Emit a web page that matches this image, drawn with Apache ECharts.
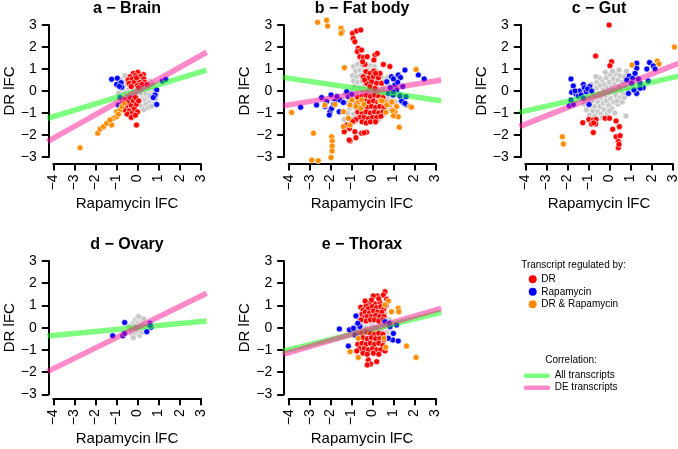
<!DOCTYPE html>
<html><head><meta charset="utf-8">
<script src="https://cdn.jsdelivr.net/npm/echarts/dist/echarts.min.js"></script>
<style>html,body{margin:0;padding:0;background:#fff}#c{width:678px;height:449px}</style>
</head><body><div id="c"></div>
<script>
// ---------- text ----------
const panelTitles = ['a \u2212 Brain', 'b \u2212 Fat body', 'c \u2212 Gut', 'd \u2212 Ovary', 'e \u2212 Thorax'];
const xAxisTitle = 'Rapamycin lFC';
const yAxisTitle = 'DR lFC';
const xTicks = [-4, -3, -2, -1, 0, 1, 2, 3];
const yTicks = [-3, -2, -1, 0, 1, 2, 3];
const legendTitle1 = 'Transcript regulated by:';
const groupNames = ['DR', 'Rapamycin', 'DR & Rapamycin'];
const legendTitle2 = 'Correlation:';
const lineNames = ['All transcripts', 'DE transcripts'];

// ---------- data: [Rapamycin lFC, DR lFC] ----------
// a - Brain
const aGray = [[-0.85,0.25],[-0.7,0.4],[-0.6,0.15],[-0.55,0.5],[-0.5,0.3],[-0.45,0.05],[-0.4,0.35],[-0.35,-0.1],[-0.3,0.2],[-0.25,0.45],[-0.2,0.0],[-0.15,0.3],[-0.1,-0.2],[-0.05,0.15],[0,0.35],[0.05,-0.05],[0.1,0.2],[0.15,-0.3],[0.2,0.05],[0.25,-0.15],[0.3,0.3],[0.35,-0.4],[0.4,0.1],[0.45,-0.25],[0.5,-0.05],[0.55,-0.5],[0.6,0.15],[0.65,-0.3],[0.7,-0.1],[0.75,-0.6],[0.8,0.05],[0.85,-0.35],[-0.65,-0.05],[-0.75,0.1],[-0.5,-0.25],[-0.3,-0.35],[-0.1,-0.45],[0.1,-0.5],[0.2,-0.7],[0.4,-0.6],[0.3,-0.85],[0.5,-0.75],[0.65,-0.7],[-0.2,0.6],[-0.4,0.65],[-0.6,0.7],[0.15,0.5],[0.45,0.4],[0.6,0.45],[0.35,0.55],[-0.9,-0.1],[0.0,-0.3],[0.1,0.0],[-0.05,-0.1],[0.25,0.15],[0.7,0.3],[0.9,-0.15],[-0.8,0.5],[0.55,-0.2],[0.35,-0.1],[0.15,-0.1],[-0.25,-0.2]];
const aDR = [[-0.2,0.8],[0.02,0.85],[0.28,0.75],[-0.35,0.65],[-0.1,0.7],[0.15,0.68],[-0.45,0.5],[-0.25,0.55],[0.0,0.55],[0.3,0.55],[-0.4,0.35],[-0.15,0.4],[0.1,0.4],[0.35,0.4],[-0.3,0.2],[0.0,0.25],[0.2,0.3],[0.45,0.3],[0.05,0.15],[-0.05,0.6],[-0.75,-0.55],[-0.6,-0.4],[-0.55,-0.7],[-0.45,-0.5],[-0.4,-0.9],[-0.35,-0.3],[-0.3,-0.65],[-0.25,-1.0],[-0.2,-0.45],[-0.15,-0.8],[-0.1,-0.3],[-0.05,-0.6],[0.0,-0.95],[-0.5,-1.05],[-0.3,-1.2],[-0.65,-0.85],[-0.1,-1.1],[0.05,-0.45],[-0.05,-1.55]];
const aRapa = [[-1.23,0.53],[-0.96,0.58],[-0.99,0.3],[-0.78,0.38],[-0.75,0.17],[-0.86,0.21],[1.18,0.45],[1.34,0.53],[0.91,0.05],[0.83,-0.18],[0.75,-0.3],[0.91,-0.61],[-0.83,-0.29],[-0.91,-0.64]];
const aBoth = [[-2.73,-2.58],[-1.89,-1.92],[-1.78,-1.73],[-1.62,-1.62],[-1.46,-1.47],[-1.23,-1.55],[-1.15,-1.24],[-0.99,-1.17],[-0.99,-0.94],[-0.83,-0.86],[-0.75,-0.71],[-0.63,-0.56],[-0.91,-1.06],[-1.31,-1.32]];
// b - Fat body
const bGray = [[-0.9,1.1],[-0.7,1.2],[-0.5,1.15],[-0.3,1.2],[-0.1,1.15],[0.1,1.1],[-0.8,0.9],[-0.6,0.95],[-0.4,0.9],[-0.2,0.95],[0.0,0.95],[0.2,0.9],[-0.95,0.7],[-0.75,0.65],[-0.55,0.7],[-0.35,0.75],[0.3,0.7],[0.45,0.6],[-0.9,0.45],[-0.7,0.4],[-0.5,0.45],[-0.3,0.5],[-0.15,0.35],[0.4,0.4],[0.6,0.45],[0.75,0.3],[-0.85,0.2],[-0.6,0.15],[-0.4,0.2],[-0.2,0.1],[0.0,0.15],[0.2,0.2],[0.5,0.15],[0.8,0.1],[1.0,0.25],[-1.0,0.0],[-0.75,-0.05],[-0.5,-0.05],[-0.25,-0.1],[0.05,-0.05],[0.3,-0.05],[0.55,-0.1],[0.85,-0.15],[1.1,-0.05],[-1.1,-0.3],[-0.85,-0.3],[-0.6,-0.25],[-0.35,-0.3],[0.4,-0.3],[0.7,-0.35],[0.95,-0.35],[-1.2,-0.55],[-0.95,-0.5],[-0.7,-0.55],[0.65,-0.6],[0.9,-0.55],[1.1,-0.5],[-1.1,-0.8],[-0.85,-0.75],[-0.6,-0.85],[0.6,-0.85],[0.85,-0.8],[-1.2,-1.0],[-0.9,-1.05],[-0.7,-1.15],[0.5,-1.1],[-1.35,-1.3],[-1.0,-1.3],[-0.8,-1.4],[0.3,-1.3],[-0.45,-1.25],[0.1,-1.45],[0.7,0.6],[-0.2,0.75],[0.15,0.55],[1.2,0.1],[-1.3,-0.1],[0.25,-0.5],[-0.15,-0.6]];
const bDR = [[-0.95,2.62],[-0.76,2.73],[-0.56,2.77],[-0.92,2.39],[-0.84,2.24],[-0.68,1.94],[-0.72,1.79],[-0.52,1.86],[-0.6,1.56],[-0.44,1.52],[-0.25,1.56],[0.12,1.64],[0.23,1.71],[0.07,1.41],[0.52,1.21],[0.83,1.11],[-0.36,1.21],[-0.47,1.33],[-0.31,0.88],[-0.12,0.8],[0.07,0.91],[-0.2,0.58],[0.04,0.65],[0.28,0.6],[-0.28,0.35],[-0.04,0.42],[0.2,0.35],[-0.44,0.65],[0.36,0.8],[-0.12,0.2],[0.44,0.35],[0.12,0.12],[-0.38,0.5],[0.15,0.8],[-0.7,-0.3],[-0.5,-0.25],[-0.3,-0.2],[-0.1,-0.25],[0.1,-0.2],[0.3,-0.25],[0.5,-0.3],[-0.75,-0.55],[-0.55,-0.5],[-0.35,-0.45],[-0.15,-0.5],[0.05,-0.45],[0.25,-0.5],[0.45,-0.55],[0.65,-0.5],[-0.65,-0.75],[-0.45,-0.7],[-0.25,-0.75],[-0.05,-0.7],[0.15,-0.75],[0.35,-0.7],[0.55,-0.75],[-0.7,-0.95],[-0.5,-1.0],[-0.3,-0.95],[-0.1,-1.0],[0.1,-0.95],[0.3,-1.0],[0.5,-0.95],[-0.6,-1.2],[-0.4,-1.2],[-0.2,-1.25],[0.0,-1.2],[0.2,-1.2],[0.4,-1.15],[-0.5,-1.4],[-0.3,-1.45],[-0.1,-1.4],[0.15,-1.4],[-0.8,-1.3],[-0.84,-1.85],[-0.52,-1.92],[-0.28,-1.88],[-0.4,-1.9],[-1.07,-2.27],[-0.79,-2.12],[-1.1,-1.7],[-0.95,-1.39],[-1.35,-1.85],[-1.23,-1.55],[-1.11,-2.23]];
const bRapa = [[-3.43,-0.74],[-2.67,-0.64],[-2.43,-0.3],[-2.27,-0.71],[-2.19,-0.48],[-2.03,-0.94],[-2.06,-1.09],[-1.95,-0.79],[-1.98,-0.18],[-1.79,-0.45],[-1.59,-0.94],[-1.55,-0.41],[-1.39,-0.52],[-1.23,-0.03],[-1.15,-0.26],[-0.99,-0.15],[-1.85,-0.6],[-1.7,-0.25],[0.68,0.42],[0.91,0.65],[1.07,0.27],[1.23,0.73],[1.34,0.61],[1.55,0.95],[2.19,0.73],[2.47,0.55],[1.15,0.05],[1.31,-0.18],[1.47,-0.52],[1.6,-0.61],[1.39,-0.45],[1.6,-0.26],[0.76,-0.11],[0.99,-0.18],[1.31,-0.23],[1.55,-0.56],[0.99,-0.03],[1.2,0.4],[0.85,0.15],[1.45,0.2],[1.0,0.55]];
const bBoth = [[-2.62,3.12],[-2.19,3.22],[-2.14,2.95],[-1.5,2.85],[-1.45,2.7],[-1.5,2.62],[-1.34,1.06],[2.08,0.98],[-3.86,-0.98],[-2.82,-1.92],[-1.95,-2.08],[-1.92,-2.27],[-1.92,-2.5],[-1.93,-2.73],[-1.98,-3.02],[-2.9,-3.14],[-2.59,-3.17],[-0.99,-0.41],[-0.68,-0.52],[-0.52,-0.41],[-1.07,-0.64],[-0.79,-0.71],[-0.55,-0.79],[-0.41,-0.61],[0.36,-0.45],[0.6,-0.52],[0.83,-0.61],[0.96,-0.52],[1.15,-0.71],[1.23,-1.17],[1.07,-0.94],[1.79,-0.71],[0.64,-0.97],[-1.39,-1.62],[-1.15,-1.24],[-1.39,-0.94],[-2.27,-0.64],[-1.79,-0.61],[-1.07,-1.55],[0.44,-0.44],[0.68,-0.64],[0.92,-0.5],[0.96,-0.9],[1.0,-1.13],[1.28,-1.65],[1.87,-0.74]];
// c - Gut
const cGray = [[-1.3,-0.3],[-1.2,-0.6],[-1.15,-0.1],[-1.1,-0.85],[-1.05,-0.4],[-1.0,0.1],[-0.95,-1.1],[-0.95,-0.65],[-0.9,-0.2],[-0.85,0.3],[-0.8,-0.9],[-0.8,-0.45],[-0.75,0.05],[-0.7,-1.15],[-0.7,-0.7],[-0.65,-0.25],[-0.6,0.4],[-0.6,0.15],[-0.55,-0.95],[-0.55,-0.5],[-0.5,-0.1],[-0.45,0.25],[-0.45,-0.7],[-0.4,-1.05],[-0.4,-0.3],[-0.35,0.5],[-0.3,0.05],[-0.3,-0.55],[-0.25,-0.85],[-0.25,0.3],[-0.2,-0.2],[-0.15,0.6],[-0.15,-0.45],[-0.1,0.15],[-0.1,-1.0],[-0.05,-0.65],[0.0,0.4],[0.0,-0.1],[0.05,0.75],[0.05,-0.35],[0.1,0.2],[0.1,-0.8],[0.15,-0.05],[0.2,0.55],[0.2,-0.5],[0.25,0.3],[0.3,-0.2],[0.3,0.8],[0.35,0.05],[0.4,-0.6],[0.4,0.5],[0.45,0.2],[0.5,-0.3],[0.5,0.7],[0.55,0.0],[0.6,0.4],[0.65,-0.15],[0.7,0.65],[0.75,0.2],[0.8,0.9],[0.85,0.45],[0.9,0.05],[0.78,-1.14],[-0.5,0.6],[-0.35,-1.2],[0.25,-1.0],[-0.8,-0.15],[0.6,-0.5],[0.15,0.9],[-0.65,0.65],[-1.0,-0.3],[0.0,-0.9],[0.35,-0.45],[0.7,-0.3],[-0.2,0.85],[0.45,0.95]];
const cDR = [[-0.02,3.0],[-0.66,1.59],[0.1,1.33],[0.02,1.15],[-1.27,-1.44],[-0.98,-1.29],[-0.77,-1.32],[-0.64,-1.29],[-0.85,-1.5],[-0.66,-1.5],[-0.77,-1.89],[-0.21,-1.24],[0.0,-1.24],[0.31,-1.36],[0.15,-1.74],[0.47,-1.62],[0.31,-2.08],[0.5,-2.03],[0.42,-2.3],[0.42,-2.58],[0.45,-2.42],[-0.75,-1.45]];
const cRapa = [[-1.83,0.55],[-1.72,0.23],[-1.8,-0.06],[-1.59,-0.15],[-1.43,0.0],[-1.24,0.3],[-1.2,0.15],[-1.11,-0.03],[-1.64,0.0],[-1.48,-0.23],[-1.35,-0.18],[-1.24,-0.33],[-0.97,-0.61],[-0.94,0.2],[-1.04,0.09],[-0.85,0.0],[-1.91,-0.67],[-1.72,-0.61],[-1.83,-0.41],[0.93,0.68],[1.1,0.58],[1.29,1.26],[1.29,1.03],[1.21,0.8],[1.77,1.0],[1.9,1.29],[2.08,1.14],[2.16,1.0],[1.6,0.15],[1.45,0.12],[1.29,-0.11],[1.16,0.05],[0.9,-0.11],[1.45,0.35],[1.05,0.35],[0.82,0.5],[1.37,0.55],[1.84,0.45]];
const cBoth = [[-2.24,-2.08],[-2.19,-2.41],[1.07,1.18],[2.27,1.36],[2.35,1.23],[3.08,2.0]];
// d - Ovary
const dGray = [[-0.35,-0.1],[-0.3,0.1],[-0.25,-0.3],[-0.2,0.2],[-0.15,-0.05],[-0.1,0.35],[-0.1,-0.25],[-0.05,0.1],[0.0,0.45],[0.0,-0.15],[0.05,0.25],[0.1,-0.35],[0.1,0.05],[0.15,0.4],[0.2,0.15],[0.2,-0.2],[0.25,0.3],[0.3,0.0],[0.35,0.2],[0.4,-0.1],[0.45,0.1],[-0.2,-0.45],[0.05,0.5],[0.3,0.4],[-0.4,0.05]];
const dDR = [];
const dRapa = [[-0.61,0.23],[-1.18,-0.37],[-0.7,-0.37],[-0.62,-0.26],[0.59,0.2],[0.64,0.02],[0.44,-0.18],[0.6,0.1]];
const dBoth = [];
// e - Thorax
const eGray = [[-0.8,0.1],[-0.7,-0.2],[-0.65,0.35],[-0.6,-0.45],[-0.55,0.1],[-0.5,0.5],[-0.45,-0.25],[-0.4,0.25],[-0.35,-0.5],[-0.3,0.0],[-0.25,0.6],[-0.2,-0.3],[-0.15,0.35],[-0.1,-0.1],[-0.05,0.15],[0.0,-0.45],[0.05,0.45],[0.1,0.0],[0.15,-0.25],[0.2,0.3],[0.25,-0.05],[0.3,0.55],[0.35,-0.4],[0.4,0.15],[0.45,-0.15],[0.5,0.4],[0.55,-0.35],[0.6,0.05],[0.65,0.3],[0.7,-0.2],[0.75,0.1],[0.85,-0.05],[-0.6,0.6],[0.6,0.65],[-0.15,-0.6],[0.2,-0.55],[-0.75,-0.1],[0.8,0.35],[0.0,0.25],[-0.3,-0.2]];
const eDR = [[0.6,1.62],[0.52,1.47],[0.23,1.43],[0.04,1.43],[0.68,1.28],[-0.56,0.92],[-0.12,1.1],[0.12,1.07],[0.35,1.15],[-0.45,0.8],[-0.3,1.0],[-0.2,0.85],[0.0,0.95],[0.2,0.9],[0.4,0.95],[0.55,0.85],[-0.5,0.6],[-0.35,0.7],[-0.15,0.65],[0.05,0.75],[0.25,0.7],[0.45,0.7],[-0.4,0.45],[-0.25,0.5],[-0.05,0.5],[0.15,0.55],[0.35,0.5],[0.55,0.5],[-0.3,0.3],[-0.1,0.35],[0.1,0.35],[0.3,0.3],[0.5,0.35],[-0.55,0.35],[0.65,1.0],[-0.05,1.25],[0.3,1.3],[-0.35,1.2],[-0.7,-0.3],[-0.5,-0.25],[-0.3,-0.2],[-0.1,-0.25],[0.1,-0.3],[0.3,-0.25],[0.5,-0.3],[-0.65,-0.5],[-0.45,-0.45],[-0.25,-0.5],[-0.05,-0.45],[0.15,-0.5],[0.35,-0.5],[0.55,-0.55],[-0.7,-0.75],[-0.5,-0.7],[-0.3,-0.75],[-0.1,-0.7],[0.1,-0.75],[0.3,-0.7],[0.5,-0.8],[-0.6,-0.95],[-0.4,-0.95],[-0.2,-1.0],[0.0,-0.95],[0.2,-1.0],[0.4,-1.0],[-0.45,-1.15],[-0.25,-1.2],[0.05,-1.15],[0.3,-1.2],[-0.2,-1.46],[0.2,-1.53],[-0.09,-1.64],[-0.25,-1.68],[-0.75,-1.05],[0.6,-1.05]];
const eRapa = [[-1.58,-0.06],[-1.1,-0.1],[-0.91,-0.03],[-0.79,0.53],[-0.84,-0.33],[-0.6,0.05],[-1.15,-0.83],[0.84,0.05],[1.0,-0.26],[1.15,0.12],[0.97,-0.56],[1.23,-0.6],[0.76,-0.48],[0.6,0.27],[0.8,0.2],[-0.7,0.2]];
const eBoth = [[0.76,1.2],[0.6,1.02],[0.91,0.72],[1.23,0.87],[1.26,0.72],[-0.68,-0.48],[1.63,-0.83],[2.08,-1.34],[-1.07,-1.08],[-0.68,-1.34],[0.63,-0.89],[0.55,-0.48]];

// regression lines (one per panel a..e)
const allSlope = [0.29, -0.14, 0.218, 0.089, 0.23];
const allIntercept = [0.0, 0.02, -0.04, 0.01, -0.07];
const deSlope = [0.537, 0.156, 0.381, 0.467, 0.274];
const deIntercept = [0.0, -0.01, 0.01, 0.02, -0.03];

// ---------- layout / style ----------
const pointSets = [
  [aGray, aDR, aRapa, aBoth], [bGray, bDR, bRapa, bBoth], [cGray, cDR, cRapa, cBoth],
  [dGray, dDR, dRapa, dBoth], [eGray, eDR, eRapa, eBoth]
];
// pixel box of the tick range (x -4..3, y -3..3) for each panel
const layout = [
  {L: 53.3, R: 200.7, T: 25, B: 157, xo: 6.5},
  {L: 288.7, R: 435.3, T: 25, B: 157, xo: 6.5},
  {L: 525.3, R: 672.7, T: 25, B: 157, xo: 6.5},
  {L: 53.3, R: 200.7, T: 261, B: 394.3, xo: 4},
  {L: 288.7, R: 435.3, T: 261, B: 394.3, xo: 4}
];
const FONT = '"Liberation Sans", Arial, Helvetica, sans-serif';
const pointColors = ['#c8c8c8', '#ff0000', '#0000ff', '#ff8c00'];
const lineColors = ['rgba(0,255,0,0.5)', 'rgba(255,20,147,0.5)'];
const XPAD = 0.28, YPAD = 0.24;
const xMin = xTicks[0], xMax = xTicks[xTicks.length - 1];
const yMin = yTicks[0], yMax = yTicks[yTicks.length - 1];
const fmt = v => String(v).replace('-', '\u2212');

const grids = [], xAxes = [], yAxes = [], series = [], graphics = [];
layout.forEach((g, i) => {
  const ux = (g.R - g.L) / (xMax - xMin), uy = (g.B - g.T) / (yMax - yMin);
  const px = XPAD * ux, py = YPAD * uy;
  grids.push({left: g.L - px, top: g.T - py, width: g.R - g.L + 2 * px, height: g.B - g.T + 2 * py, containLabel: false, outerBoundsMode: 'none'});
  grids.push({left: g.L, top: g.T, width: g.R - g.L, height: g.B - g.T, containLabel: false, outerBoundsMode: 'none'});
  const dg = 2 * i, ag = 2 * i + 1;
  xAxes.push({gridIndex: dg, type: 'value', min: xMin - XPAD, max: xMax + XPAD, show: false});
  yAxes.push({gridIndex: dg, type: 'value', min: yMin - YPAD, max: yMax + YPAD, show: false});
  xAxes.push({
    gridIndex: ag, type: 'value', min: xMin, max: xMax, interval: 1, offset: g.xo,
    axisLine: {show: true, onZero: false, lineStyle: {color: '#000', width: 2}},
    axisTick: {show: true, length: 7, lineStyle: {color: '#000', width: 2}},
    axisLabel: {rotate: 90, margin: 11, fontSize: 14, color: '#000', fontFamily: FONT, formatter: fmt},
    splitLine: {show: false},
    name: xAxisTitle, nameLocation: 'middle', nameGap: 33,
    nameTextStyle: {fontSize: 15, color: '#000', fontFamily: FONT}
  });
  yAxes.push({
    gridIndex: ag, type: 'value', min: yMin, max: yMax, interval: 1, offset: 4.5,
    axisLine: {show: true, onZero: false, lineStyle: {color: '#000', width: 2}},
    axisTick: {show: true, length: 7, lineStyle: {color: '#000', width: 2}},
    axisLabel: {margin: 12, fontSize: 14, color: '#000', fontFamily: FONT, formatter: fmt},
    splitLine: {show: false},
    name: yAxisTitle, nameLocation: 'middle', nameGap: 31, nameRotate: 90,
    nameTextStyle: {fontSize: 15, color: '#000', fontFamily: FONT}
  });
  pointSets[i].forEach((pts, k) => {
    series.push({
      type: 'scatter', xAxisIndex: dg, yAxisIndex: dg, data: pts, symbol: 'circle', symbolSize: 6,
      itemStyle: {color: pointColors[k], borderColor: '#ffffff', borderWidth: 0.6, opacity: 1},
      silent: true, z: 2 + k
    });
  });
  const lx = [xMin - XPAD, xMax + XPAD];
  [[allSlope[i], allIntercept[i]], [deSlope[i], deIntercept[i]]].forEach(([s, b], k) => {
    series.push({
      type: 'line', xAxisIndex: dg, yAxisIndex: dg, data: lx.map(x => [x, s * x + b]),
      showSymbol: false, symbol: 'none', clip: true, silent: true, z: 10 + k,
      lineStyle: {color: lineColors[k], width: 5.5, cap: 'butt'}
    });
  });
  graphics.push({
    type: 'text', x: (2 * g.L - 2 * px + (g.R - g.L + 2 * px)) / 2, y: g.T - 16.5,
    style: {text: panelTitles[i], font: 'bold 16px ' + FONT, fill: '#000', textAlign: 'center', textVerticalAlign: 'middle'}
  });
});

// legend
const LX = 532.7;
graphics.push({type: 'text', x: 573.5, y: 265, style: {text: legendTitle1, font: '10px ' + FONT, fill: '#000', textAlign: 'center', textVerticalAlign: 'middle'}});
groupNames.forEach((n, k) => {
  const y = 279.3 + k * 12.5;
  graphics.push({type: 'circle', shape: {cx: LX, cy: y, r: 4}, style: {fill: pointColors[k + 1]}});
  graphics.push({type: 'text', x: 541.3, y: y, style: {text: n, font: '10px ' + FONT, fill: '#000', textAlign: 'left', textVerticalAlign: 'middle'}});
});
graphics.push({type: 'text', x: 571, y: 360.3, style: {text: legendTitle2, font: '10px ' + FONT, fill: '#000', textAlign: 'center', textVerticalAlign: 'middle'}});
lineNames.forEach((n, k) => {
  const y = 375.7 + k * 12;
  graphics.push({type: 'line', shape: {x1: 526, y1: y, x2: 548, y2: y}, style: {stroke: lineColors[k], lineWidth: 4.5, lineCap: 'round'}});
  graphics.push({type: 'text', x: 554.7, y: y, style: {text: n, font: '10px ' + FONT, fill: '#000', textAlign: 'left', textVerticalAlign: 'middle'}});
});

const chart = echarts.init(document.getElementById('c'), null, {renderer: 'canvas', width: 678, height: 449});
chart.setOption({
  animation: false,
  backgroundColor: '#ffffff',
  grid: grids, xAxis: xAxes, yAxis: yAxes, series: series, graphic: graphics
});
</script></body></html>
